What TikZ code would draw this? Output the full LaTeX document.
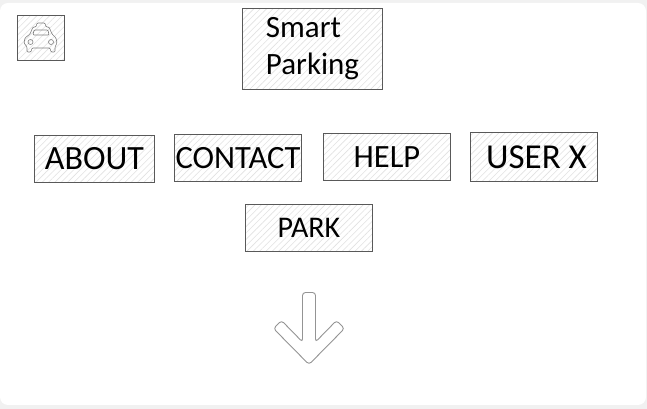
\documentclass[tikz,border=0pt]{standalone}
\usepackage{fontspec}
\setmainfont{Carlito}
\usepackage{tikz}
\usetikzlibrary{patterns.meta}
\definecolor{pagegray}{HTML}{F1F1F1}
\definecolor{hatchgray}{HTML}{E2E2E2}
\tikzstyle{sketchbox} = [rectangle, inner sep=0pt, text=black, text centered, draw=black!65, line width=1pt, pattern={Lines[angle=45, distance=4.5pt, line width=0.6pt]}, pattern color=hatchgray]
\tikzstyle{icon} = [draw=black!50, line width=0.6pt, rounded corners=1pt, line join=round]
\tikzstyle{bigarrow} = [draw=black!42, line width=0.9pt, rounded corners=3pt, fill=white]
\newcommand{\handfont}[1]{\fontsize{#1}{37}\selectfont}

\begin{document}
\begin{tikzpicture}[x=1pt, y=1pt]
    \fill [pagegray] (0,0) rectangle (647,409);
    \fill [white, rounded corners=8pt] (0,4) rectangle (646,406);
    \useasboundingbox (0,0) rectangle (647,409);
    \node (Title) [sketchbox, minimum width=140.5pt, minimum height=81.5pt, align=left, font=\handfont{31}] at (312.5,360) {\raisebox{3pt}{Smart}\\\raisebox{3pt}{Parking}};
    \node (Logo) [sketchbox, left of = Title, node distance=271.5pt, yshift=11pt, minimum width=47.5pt, minimum height=45.5pt] {};
    \node (About) [sketchbox, below of = Title, node distance=109pt, xshift=-218pt, yshift=-1pt, minimum width=120.5pt, minimum height=47.5pt, font=\handfont{34}] {ABOUT};
    \node (Contact) [sketchbox, below of = Title, node distance=109pt, xshift=-74.5pt, minimum width=127.5pt, minimum height=47.5pt, font=\handfont{32.5}] {CONTACT};
    \node (Help) [sketchbox, below of = Title, node distance=109pt, xshift=74.5pt, yshift=1pt, minimum width=127.5pt, minimum height=47.5pt, font=\handfont{32.5}] {HELP};
    \node (User) [sketchbox, below of = Title, node distance=109pt, xshift=221.5pt, yshift=1pt, minimum width=127.5pt, minimum height=49.5pt, font=\handfont{35}] {\hspace{5pt}USER X};
    \node (Park) [sketchbox, below of = Title, node distance=179pt, xshift=-3.5pt, minimum width=127.5pt, minimum height=47.5pt, font=\handfont{30}] {PARK};
    \begin{scope}[shift={(0,409)}, yscale=-1]
        % taxi in the logo box
        \draw [icon] (27,52) -- (27,47) -- (24,43) -- (25,38) -- (30,34) -- (33,27) -- (36,27) -- (37,23) -- (45,23) -- (46,27) -- (49,27) -- (52,34) -- (56,38) -- (57,43) -- (55,47) -- (55,52) -- (51,52) -- (50,48) -- (32,48) -- (31,52) -- cycle;
        \draw [icon] (33,35) -- (34,30) -- (48,30) -- (49,35) -- cycle;
        \draw [icon] (30.5,42) circle (2.5);
        \draw [icon] (51,42) circle (2.5);
        % big arrow under PARK
        \draw [bigarrow] (302.5,292.5) -- (315.5,292.5) -- (315.5,342) -- (336.5,320.5) -- (344.5,328.5) -- (309,364.5) -- (273.5,328.5) -- (281.5,320.5) -- (302.5,342) -- cycle;
    \end{scope}
\end{tikzpicture}
\end{document}
